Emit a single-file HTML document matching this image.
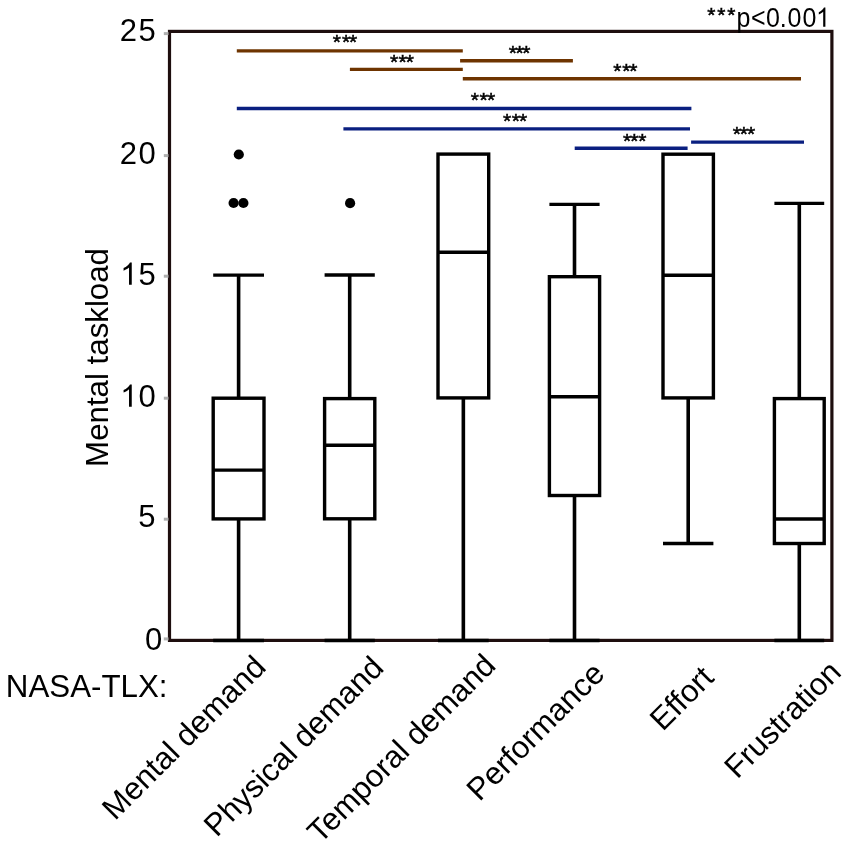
<!DOCTYPE html>
<html><head><meta charset="utf-8"><style>
html,body{margin:0;padding:0;background:#fff;}
svg{display:block;}
text{font-family:"Liberation Sans", sans-serif;fill:#000;filter:grayscale(1);}
.ast{stroke:#000;stroke-width:0.5px;}
</style></head><body>
<svg width="851" height="851" viewBox="0 0 851 851">
<rect width="851" height="851" fill="#fff"/>
<rect x="169.5" y="31.4" width="662.4" height="609.0" fill="none" stroke="#1e0e0e" stroke-width="3.2"/>
<line x1="163.8" y1="33.6" x2="168.5" y2="33.6" stroke="#b0b0b0" stroke-width="3"/>
<line x1="163.8" y1="155.6" x2="168.5" y2="155.6" stroke="#b0b0b0" stroke-width="3"/>
<line x1="163.8" y1="276.2" x2="168.5" y2="276.2" stroke="#b0b0b0" stroke-width="3"/>
<line x1="163.8" y1="398.2" x2="168.5" y2="398.2" stroke="#b0b0b0" stroke-width="3"/>
<line x1="163.8" y1="519.2" x2="168.5" y2="519.2" stroke="#b0b0b0" stroke-width="3"/>
<line x1="163.8" y1="638.9" x2="168.5" y2="638.9" stroke="#b0b0b0" stroke-width="3"/>
<text x="119.8" y="41.2" font-size="31">2</text>
<text x="138.5" y="41.2" font-size="31">5</text>
<text x="119.8" y="164.0" font-size="31">2</text>
<text x="138.5" y="164.0" font-size="31">0</text>
<path d="M 131.75 284.80 L 129.02 284.80 L 129.02 267.44 Q 128.04 268.38 126.44 269.32 Q 124.83 270.25 123.58 270.72 L 123.58 268.09 Q 125.86 267.01 127.57 265.49 Q 129.28 263.96 129.99 262.52 L 131.75 262.52 Z" fill="#000"/>
<text x="138.5" y="284.8" font-size="31">5</text>
<path d="M 131.75 406.70 L 129.02 406.70 L 129.02 389.34 Q 128.04 390.28 126.44 391.22 Q 124.83 392.15 123.58 392.62 L 123.58 389.99 Q 125.86 388.91 127.57 387.39 Q 129.28 385.86 129.99 384.42 L 131.75 384.42 Z" fill="#000"/>
<text x="138.5" y="406.7" font-size="31">0</text>
<text x="138.3" y="527.1" font-size="31">5</text>
<text x="145.0" y="649.8" font-size="31">0</text>
<rect x="213.2" y="398.2" width="50.80" height="120.70" fill="none" stroke="#000" stroke-width="3.4"/>
<line x1="213.2" y1="470.1" x2="264.0" y2="470.1" stroke="#000" stroke-width="3.4"/>
<line x1="238.6" y1="275.1" x2="238.6" y2="398.2" stroke="#000" stroke-width="3.6"/>
<line x1="213.2" y1="275.1" x2="264.0" y2="275.1" stroke="#000" stroke-width="3.4"/>
<line x1="238.6" y1="518.9" x2="238.6" y2="640.5" stroke="#000" stroke-width="3.6"/>
<line x1="213.2" y1="640.5" x2="264.0" y2="640.5" stroke="#000" stroke-width="3.4"/>
<rect x="324.6" y="398.6" width="50.20" height="120.20" fill="none" stroke="#000" stroke-width="3.4"/>
<line x1="324.6" y1="445.3" x2="374.8" y2="445.3" stroke="#000" stroke-width="3.4"/>
<line x1="349.70000000000005" y1="275.0" x2="349.70000000000005" y2="398.6" stroke="#000" stroke-width="3.6"/>
<line x1="324.6" y1="275.0" x2="374.8" y2="275.0" stroke="#000" stroke-width="3.4"/>
<line x1="349.70000000000005" y1="518.8" x2="349.70000000000005" y2="640.5" stroke="#000" stroke-width="3.6"/>
<line x1="324.6" y1="640.5" x2="374.8" y2="640.5" stroke="#000" stroke-width="3.4"/>
<rect x="438.0" y="154.1" width="50.70" height="243.80" fill="none" stroke="#000" stroke-width="3.4"/>
<line x1="438.0" y1="252.2" x2="488.7" y2="252.2" stroke="#000" stroke-width="3.4"/>
<line x1="463.35" y1="397.9" x2="463.35" y2="640.5" stroke="#000" stroke-width="3.6"/>
<line x1="438.0" y1="640.5" x2="488.7" y2="640.5" stroke="#000" stroke-width="3.4"/>
<rect x="549.4" y="276.7" width="50.20" height="218.80" fill="none" stroke="#000" stroke-width="3.4"/>
<line x1="549.4" y1="396.8" x2="599.6" y2="396.8" stroke="#000" stroke-width="3.4"/>
<line x1="574.5" y1="204.4" x2="574.5" y2="276.7" stroke="#000" stroke-width="3.6"/>
<line x1="549.4" y1="204.4" x2="599.6" y2="204.4" stroke="#000" stroke-width="3.4"/>
<line x1="574.5" y1="495.5" x2="574.5" y2="640.5" stroke="#000" stroke-width="3.6"/>
<line x1="549.4" y1="640.5" x2="599.6" y2="640.5" stroke="#000" stroke-width="3.4"/>
<rect x="663.0" y="154.2" width="50.40" height="243.70" fill="none" stroke="#000" stroke-width="3.4"/>
<line x1="663.0" y1="275.3" x2="713.4" y2="275.3" stroke="#000" stroke-width="3.4"/>
<line x1="688.2" y1="397.9" x2="688.2" y2="543.5" stroke="#000" stroke-width="3.6"/>
<line x1="663.0" y1="543.5" x2="713.4" y2="543.5" stroke="#000" stroke-width="3.4"/>
<rect x="774.4" y="398.6" width="49.80" height="144.90" fill="none" stroke="#000" stroke-width="3.4"/>
<line x1="774.4" y1="519.0" x2="824.2" y2="519.0" stroke="#000" stroke-width="3.4"/>
<line x1="799.3" y1="203.4" x2="799.3" y2="398.6" stroke="#000" stroke-width="3.6"/>
<line x1="774.4" y1="203.4" x2="824.2" y2="203.4" stroke="#000" stroke-width="3.4"/>
<line x1="799.3" y1="543.5" x2="799.3" y2="640.5" stroke="#000" stroke-width="3.6"/>
<line x1="774.4" y1="640.5" x2="824.2" y2="640.5" stroke="#000" stroke-width="3.4"/>
<circle cx="238.8" cy="154.5" r="5.1" fill="#000"/>
<circle cx="233.6" cy="203.0" r="5.1" fill="#000"/>
<circle cx="243.4" cy="203.0" r="5.1" fill="#000"/>
<circle cx="350.1" cy="203.2" r="5.1" fill="#000"/>
<line x1="236.8" y1="50.9" x2="462.8" y2="50.9" stroke="#6e3400" stroke-width="3.4"/>
<line x1="349.9" y1="69.4" x2="462.8" y2="69.4" stroke="#6e3400" stroke-width="3.4"/>
<line x1="460.1" y1="60.7" x2="572.9" y2="60.7" stroke="#6e3400" stroke-width="3.4"/>
<line x1="462.8" y1="78.8" x2="801.0" y2="78.8" stroke="#6e3400" stroke-width="3.4"/>
<line x1="236.8" y1="108.45" x2="691.4" y2="108.45" stroke="#0a1f80" stroke-width="3.4"/>
<line x1="343.4" y1="128.9" x2="690.0" y2="128.9" stroke="#0a1f80" stroke-width="3.4"/>
<line x1="574.7" y1="148.2" x2="687.6" y2="148.2" stroke="#0a1f80" stroke-width="3.4"/>
<line x1="691.1" y1="142.1" x2="804.0" y2="142.1" stroke="#0a1f80" stroke-width="3.4"/>
<text x="332.81" y="49.26" font-size="21" class="ast">*</text>
<text x="342.01" y="49.26" font-size="21" class="ast">*</text>
<text x="349.01" y="49.26" font-size="21" class="ast">*</text>
<text x="390.01" y="68.66" font-size="21" class="ast">*</text>
<text x="398.41" y="68.66" font-size="21" class="ast">*</text>
<text x="405.81" y="68.66" font-size="21" class="ast">*</text>
<text x="508.71" y="59.91" font-size="21" class="ast">*</text>
<text x="515.51" y="59.91" font-size="21" class="ast">*</text>
<text x="522.31" y="59.91" font-size="21" class="ast">*</text>
<text x="613.21" y="78.06" font-size="21" class="ast">*</text>
<text x="622.31" y="78.06" font-size="21" class="ast">*</text>
<text x="629.31" y="78.06" font-size="21" class="ast">*</text>
<text x="470.81" y="107.31" font-size="21" class="ast">*</text>
<text x="479.41" y="107.31" font-size="21" class="ast">*</text>
<text x="487.01" y="107.31" font-size="21" class="ast">*</text>
<text x="503.01" y="128.01" font-size="21" class="ast">*</text>
<text x="511.81" y="128.01" font-size="21" class="ast">*</text>
<text x="519.11" y="128.01" font-size="21" class="ast">*</text>
<text x="623.01" y="147.66" font-size="21" class="ast">*</text>
<text x="630.31" y="147.66" font-size="21" class="ast">*</text>
<text x="638.21" y="147.66" font-size="21" class="ast">*</text>
<text x="732.81" y="140.66" font-size="21" class="ast">*</text>
<text x="739.71" y="140.66" font-size="21" class="ast">*</text>
<text x="747.11" y="140.66" font-size="21" class="ast">*</text>
<text x="707.21" y="22.06" font-size="21" class="ast">*</text>
<text x="717.31" y="22.06" font-size="21" class="ast">*</text>
<text x="727.31" y="22.06" font-size="21" class="ast">*</text>
<text transform="translate(736.39,26.8) scale(0.93,1)" font-size="26.9">p</text>
<text transform="translate(750.97,26.8) scale(0.93,1)" font-size="26.9">&lt;</text>
<text transform="translate(766.12,26.8) scale(0.93,1)" font-size="26.9">0</text>
<text transform="translate(779.82,26.8) scale(0.93,1)" font-size="26.9">.</text>
<text transform="translate(787.42,26.8) scale(0.93,1)" font-size="26.9">0</text>
<text transform="translate(802.52,26.8) scale(0.93,1)" font-size="26.9">0</text>
<path d="M 825.39 26.80 L 823.19 26.80 L 823.19 11.73 Q 822.40 12.55 821.11 13.36 Q 819.81 14.18 818.80 14.58 L 818.80 12.30 Q 820.64 11.37 822.02 10.04 Q 823.40 8.71 823.98 7.47 L 825.39 7.47 Z" fill="#000"/>
<text x="5.8" y="696.9" font-size="31.3">NASA-TLX:</text>
<text transform="translate(107.9,466.9) rotate(-90)" font-size="31.25">Mental taskload</text>
<text transform="translate(267.5,668.6) rotate(-45)" font-size="31.3" text-anchor="end">Mental demand</text>
<text transform="translate(385.2,669.5) rotate(-45)" font-size="31.3" text-anchor="end">Physical demand</text>
<text transform="translate(497.4,667.25) rotate(-45)" font-size="31.3" text-anchor="end">Temporal demand</text>
<text transform="translate(606.3,675.5) rotate(-45)" font-size="31.3" text-anchor="end">Performance</text>
<text transform="translate(715.3,679.4) rotate(-45)" font-size="31.3" text-anchor="end">Effort</text>
<text transform="translate(842.9,673.9) rotate(-45)" font-size="31.3" text-anchor="end">Frustration</text>
</svg>
</body></html>
